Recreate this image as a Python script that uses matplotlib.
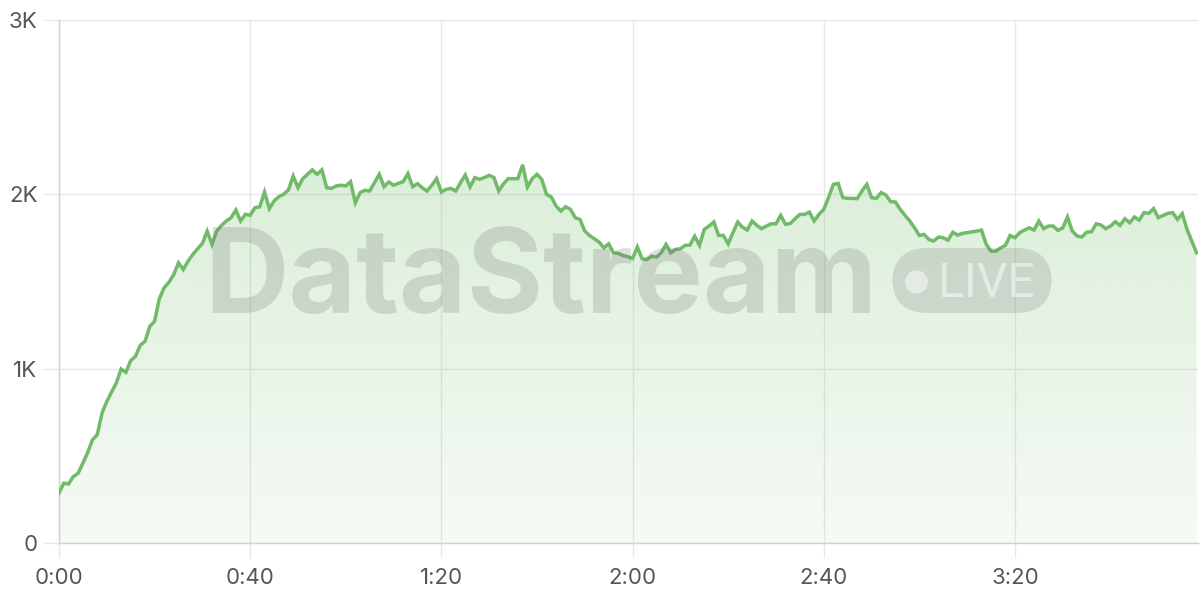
import numpy as np
import matplotlib
matplotlib.use("Agg")
import matplotlib.pyplot as plt
from matplotlib.patches import FancyBboxPatch, Ellipse
from matplotlib.ticker import FixedLocator

# ---- data (value per second) ----
values = [
    286, 343, 339, 381, 400, 458, 519, 592, 621, 745,
    812, 866, 918, 998, 979, 1046, 1071, 1134, 1157, 1243,
    1272, 1402, 1464, 1496, 1540, 1607, 1569, 1617, 1655, 1688,
    1718, 1789, 1713, 1789, 1822, 1847, 1866, 1910, 1847, 1885,
    1880, 1923, 1929, 2013, 1918, 1962, 1987, 2000, 2025, 2105,
    2038, 2090, 2115, 2140, 2115, 2140, 2038, 2034, 2048, 2052,
    2048, 2073, 1952, 2010, 2023, 2019, 2067, 2115, 2044, 2071,
    2052, 2063, 2073, 2119, 2044, 2061, 2038, 2019, 2052, 2090,
    2013, 2029, 2034, 2019, 2067, 2111, 2042, 2096, 2086, 2096,
    2109, 2096, 2019, 2061, 2090, 2090, 2090, 2169, 2042, 2090,
    2115, 2086, 2000, 1985, 1933, 1904, 1929, 1914, 1866, 1856,
    1789, 1764, 1745, 1726, 1693, 1716, 1665, 1661, 1649, 1642,
    1632, 1698, 1630, 1626, 1645, 1640, 1665, 1713, 1665, 1684,
    1688, 1707, 1709, 1760, 1707, 1799, 1818, 1841, 1764, 1764,
    1716, 1780, 1841, 1812, 1795, 1847, 1822, 1803, 1818, 1831,
    1831, 1879, 1828, 1833, 1860, 1885, 1885, 1898, 1847, 1885,
    1914, 1981, 2057, 2063, 1981, 1977, 1977, 1975, 2019, 2057,
    1981, 1977, 2010, 1996, 1958, 1956, 1914, 1879, 1847, 1808,
    1764, 1770, 1741, 1732, 1755, 1751, 1737, 1783, 1766, 1776,
    1780, 1785, 1789, 1795, 1713, 1674, 1674, 1693, 1707, 1764,
    1751, 1780, 1795, 1808, 1795, 1847, 1803, 1818, 1818, 1793,
    1808, 1870, 1789, 1761, 1755, 1783, 1785, 1831, 1824, 1803,
    1818, 1843, 1822, 1860, 1837, 1870, 1852, 1895, 1891, 1918,
    1866, 1879, 1891, 1895, 1856, 1889, 1799, 1732, 1665,
]
seconds = list(range(len(values)))

x_ticks = [0, 40, 80, 120, 160, 200]
x_tick_labels = ["0:00", "0:40", "1:20", "2:00", "2:40", "3:20"]
y_ticks = [0, 1000, 2000, 3000]
y_tick_labels = ["0", "1K", "2K", "3K"]

watermark_main = "DataStream"
watermark_badge = "LIVE"

# ---- style ----
GREEN = "#70BA68"
GRID = "#e8e8e8"
AXIS = "#d0d0d0"
LABEL = "#555555"
plt.rcParams["font.family"] = ["Inter", "DejaVu Sans"]

fig = plt.figure(figsize=(12, 6), dpi=100)
ax = fig.add_axes([59 / 1200, 1 - 543 / 600, (1198 - 59) / 1200, (543 - 20) / 600])

x = np.array(seconds, dtype=float)
y = np.array(values, dtype=float)

ax.set_xlim(0, x[-1] + 0.3)
ax.set_ylim(0, 3000)

# gradient fill under line
fill = ax.fill_between(x, 0, y, facecolor="none", edgecolor="none")
grad = np.linspace(0.07, 0.26, 256).reshape(-1, 1)
rgba = np.zeros((256, 1, 4))
rgba[..., 0] = 115 / 255
rgba[..., 1] = 191 / 255
rgba[..., 2] = 105 / 255
rgba[..., 3] = grad
im = ax.imshow(rgba, extent=[0, x[-1] + 0.3, 0, y.max()], origin="lower",
               aspect="auto", zorder=1, interpolation="bilinear")
im.set_clip_path(fill.get_paths()[0], transform=ax.transData)

ax.plot(x, y, color=GREEN, lw=2.5, zorder=5, solid_joinstyle="miter")

# axes styling
ax.xaxis.set_major_locator(FixedLocator(x_ticks))
ax.set_xticklabels(x_tick_labels)
ax.yaxis.set_major_locator(FixedLocator(y_ticks))
ax.set_yticklabels(y_tick_labels)
ax.grid(True, color=GRID, lw=1, zorder=0)
ax.set_axisbelow(True)
for s in ["top", "right"]:
    ax.spines[s].set_visible(False)
for s in ["left", "bottom"]:
    ax.spines[s].set_color(AXIS)
    ax.spines[s].set_linewidth(1)
ax.tick_params(axis="x", length=11, width=1, color=GRID, labelsize=16,
               labelcolor=LABEL, pad=7)
ax.tick_params(axis="y", length=11.5, width=1, color=GRID, labelsize=16,
               labelcolor=LABEL, pad=4)

# watermark
fig.text(541 / 1200, 1 - 313 / 600, watermark_main, fontsize=84, fontweight="bold",
         color="#6f6f6f", alpha=0.22, ha="center", va="baseline", zorder=3)
pill = FancyBboxPatch((892 / 1200, 1 - 313 / 600), (1052 - 892) / 1200, (313 - 248) / 600,
                      boxstyle="round,pad=0,rounding_size=0.03",
                      transform=fig.transFigure, facecolor="#6f6f6f", alpha=0.2,
                      edgecolor="none", zorder=3,
                      mutation_aspect=2.0)
fig.patches.append(pill)
dot = Ellipse((916.5 / 1200, 1 - 282 / 600), 23 / 1200, 23 / 600,
              transform=fig.transFigure, facecolor="white", alpha=0.5,
              edgecolor="none", zorder=4)
fig.patches.append(dot)
fig.text(986 / 1200, 1 - 297 / 600, watermark_badge, fontsize=34.5, color="white",
         alpha=0.5, ha="center", va="baseline", zorder=4,
         family=["Roboto", "DejaVu Sans"])

fig.savefig("out.png", dpi=100)
